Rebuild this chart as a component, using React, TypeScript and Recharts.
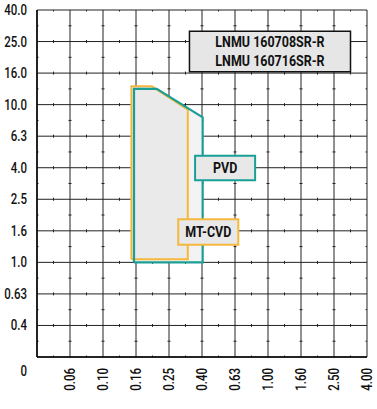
import { ComposedChart, Area, Line, XAxis, YAxis, CartesianGrid, ReferenceArea } from 'recharts';

// feed rate f (mm/rev) categories, equally spaced
const feedLabels = ['0', '0.06', '0.10', '0.16', '0.25', '0.40', '0.63', '1.00', '1.60', '2.50', '4.00'];
// depth of cut ap (mm) categories, equally spaced
const depthLabels = ['0', '0.4', '0.63', '1.0', '1.6', '2.5', '4.0', '6.3', '10.0', '16.0', '25.0', '40.0'];

// outlines, as positions on the category axes (closed polygons)
const pvdX = [2.94, 2.94, 3.63, 5.02, 5.02, 2.94];
const pvdY = [3.0, 8.5, 8.5, 7.6, 3.0, 3.0];
const cvdX = [2.86, 2.86, 3.48, 4.57, 4.57, 2.86];
const cvdY = [3.1, 8.58, 8.58, 7.84, 3.1, 3.1];

const pvd = pvdX.map((x, i) => ({ x, y: pvdY[i] }));
const cvd = cvdX.map((x, i) => ({ x, y: cvdY[i] }));

const TEAL = '#1a9f97';
const ORANGE = '#f5b83d';
const FONT = 'Roboto, "Liberation Sans", sans-serif';
const SQUEEZE = 0.82;

function YTick({ x, y, payload }: any) {
  const v = payload.value as number;
  const ty = v === 0 ? y + 14 : y;
  return (
    <g transform={`translate(${x}, ${ty}) scale(${SQUEEZE}, 1)`}>
      <text x={0} y={0} dy={5} textAnchor="end" fontFamily={FONT} fontWeight={500} fontSize={14} fill="#111">
        {depthLabels[v]}
      </text>
    </g>
  );
}

function XTick({ x, y, payload }: any) {
  const v = payload.value as number;
  if (v === 0) return null;
  return (
    <g transform={`translate(${x}, ${y}) rotate(-90) scale(${SQUEEZE}, 1)`}>
      <text
        x={0}
        y={0}
        textAnchor="end"
        dominantBaseline="central"
        fontFamily={FONT}
        fontWeight={500}
        fontSize={14}
        fill="#111"
      >
        {feedLabels[v]}
      </text>
    </g>
  );
}

function BoxLabel({ viewBox, lines }: any) {
  const cx = viewBox.x + viewBox.width / 2;
  const cy = viewBox.y + viewBox.height / 2;
  const step = 19;
  const start = cy - ((lines.length - 1) * step) / 2;
  return (
    <g>
      {lines.map((t: string, i: number) => (
        <g key={t} transform={`translate(${cx}, ${start + i * step}) scale(0.86, 1)`}>
          <text
            x={0}
            y={0}
            textAnchor="middle"
            dominantBaseline="central"
            fontFamily={FONT}
            fontWeight="bold"
            fontSize={14.5}
            fill="#111"
          >
            {t}
          </text>
        </g>
      ))}
    </g>
  );
}

// small ticks halfway between grid lines
const halfX = ({ offset }: any) => Array.from({ length: 10 }, (_, i) => offset.left + (offset.width * (i + 0.5)) / 10);
const halfY = ({ offset }: any) => Array.from({ length: 11 }, (_, i) => offset.top + (offset.height * (i + 0.5)) / 11);

export default function App() {
  return (
    <div style={{ position: 'absolute', left: 0, top: 0, background: '#fff' }}>
      <ComposedChart width={377} height={409} margin={{ top: 10, right: 10, bottom: 12, left: 4 }}>
        <CartesianGrid stroke="#222" strokeWidth={1} />
        <CartesianGrid
          horizontal={false}
          verticalCoordinatesGenerator={halfX}
          stroke="#222"
          strokeWidth={1}
          strokeDasharray="3 28.545"
          strokeDashoffset={1.5}
        />
        <CartesianGrid
          vertical={false}
          horizontalCoordinatesGenerator={halfY}
          stroke="#222"
          strokeWidth={1}
          strokeDasharray="3 30"
          strokeDashoffset={1.5}
        />
        <XAxis
          type="number"
          dataKey="x"
          domain={[0, 10]}
          ticks={feedLabels.map((_, i) => i)}
          interval={0}
          tick={<XTick />}
          tickLine={false}
          tickMargin={5}
          height={40}
          axisLine={{ stroke: '#000', strokeWidth: 1.5 }}
        />
        <YAxis
          type="number"
          dataKey="y"
          domain={[0, 11]}
          ticks={depthLabels.map((_, i) => i)}
          interval={0}
          tick={<YTick />}
          tickLine={false}
          tickMargin={4}
          width={33}
          axisLine={{ stroke: '#000', strokeWidth: 1.5 }}
        />
        <Area
          data={pvd}
          dataKey="y"
          type="linear"
          baseValue={3}
          fill="#f3f3f3"
          fillOpacity={1}
          stroke="none"
          isAnimationActive={false}
        />
        <Area
          data={cvd}
          dataKey="y"
          type="linear"
          baseValue={3}
          fill="#eaeaea"
          fillOpacity={1}
          stroke={ORANGE}
          strokeWidth={2}
          isAnimationActive={false}
        />
        <Line
          data={pvd}
          dataKey="y"
          type="linear"
          stroke={TEAL}
          strokeWidth={2.2}
          dot={false}
          isAnimationActive={false}
        />
        <ReferenceArea
          x1={4.62}
          x2={9.5}
          y1={9.04}
          y2={10.33}
          fill="#e6e6e6"
          fillOpacity={1}
          stroke="#111"
          strokeWidth={1.5}
          zIndex={1000}
          label={<BoxLabel lines={['LNMU 160708SR-R', 'LNMU 160716SR-R']} />}
        />
        <ReferenceArea
          x1={4.79}
          x2={6.61}
          y1={5.6}
          y2={6.38}
          fill="#e8e8e8"
          fillOpacity={1}
          stroke={TEAL}
          strokeWidth={2}
          zIndex={1000}
          label={<BoxLabel lines={['PVD']} />}
        />
        <ReferenceArea
          x1={4.28}
          x2={6.1}
          y1={3.56}
          y2={4.37}
          fill="#e8e8e8"
          fillOpacity={1}
          stroke={ORANGE}
          strokeWidth={2}
          zIndex={1000}
          label={<BoxLabel lines={['MT-CVD']} />}
        />
      </ComposedChart>
    </div>
  );
}
